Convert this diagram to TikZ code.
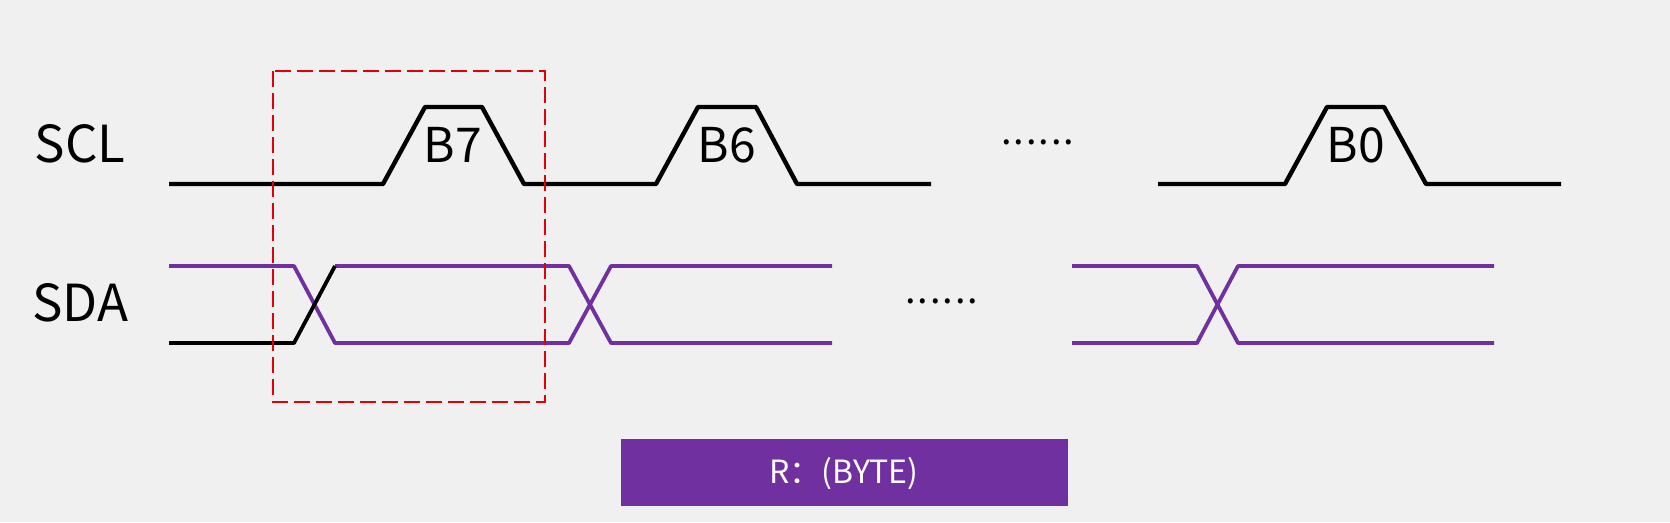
\documentclass[tikz,border=0pt]{standalone}
\usepackage{fontspec}
\setmainfont{Noto Sans CJK SC}
\definecolor{bg}{RGB}{240,240,240}
\definecolor{sdapurple}{RGB}{112,48,160}
\definecolor{boxborder}{RGB}{47,82,143}
\definecolor{selred}{RGB}{228,0,10}
\begin{document}
\begin{tikzpicture}[x=1pt,y=-1pt,
  scl/.style={line width=4.4pt,black,line join=round},
  sda/.style={line width=3.8pt,sdapurple,line join=round},
  sdablack/.style={line width=3.8pt,black,line join=round},
  sel/.style={line width=2.3pt,selred,dash pattern=on 16pt off 6pt},
  biglbl/.style={anchor=base,inner sep=0pt,font=\fontsize{51}{51}\selectfont},
  bitlbl/.style={anchor=base,inner sep=0pt,font=\fontsize{48}{48}\selectfont},
  dotlbl/.style={anchor=base,inner sep=0pt,font=\fontsize{38}{38}\selectfont},
  bytebox/.style={draw=boxborder,line width=1pt,fill=sdapurple,minimum width=446pt,minimum height=66pt,inner sep=0pt},
  bytetext/.style={anchor=base,inner sep=0pt,text=white,font=\fontsize{32}{32}\selectfont}]
\fill[bg] (0,0) rectangle (1670,522);
\useasboundingbox (0,0) rectangle (1670,522);
% labels
\node[biglbl] (scllbl) at (80,162) {SCL};
\node[biglbl] (sdalbl) at (80,321) {SDA};
% SCL waveform
\draw[scl] (169,184) -- (383,184) -- (425,107) -- (482,107) -- (524,184)
  -- (656,184) -- (698,107) -- (756,107) -- (797,184) -- (931,184);
\draw[scl] (1158,184) -- (1285,184) -- (1327,107) -- (1384,107) -- (1426,184) -- (1561,184);
\node[bitlbl] (b7) at (453,162) {B7};
\node[bitlbl] (b6) at (727,162) {B6};
\node[bitlbl] (b0) at (1356,162) {B0};
\node[dotlbl] (dots1) at (1038,144) {.\kern1.9pt.\kern1.9pt.\kern1.9pt.\kern1.9pt.\kern1.9pt.};
\node[dotlbl] (dots2) at (942,303) {.\kern1.9pt.\kern1.9pt.\kern1.9pt.\kern1.9pt.\kern1.9pt.};
% SDA waveform
\draw[sda] (169,266) -- (294,266) -- (335,343) -- (569,343) -- (611,266) -- (832,266);
\draw[sda] (335,266) -- (569,266) -- (611,343) -- (832,343);
\draw[sdablack] (169,343) -- (294,343) -- (335,266);
\draw[sda] (1072,266) -- (1197,266) -- (1238,343) -- (1494,343);
\draw[sda] (1072,343) -- (1197,343) -- (1238,266) -- (1494,266);
% selection box
\draw[sel] (273,71) rectangle (545,402);
% byte box
\node[bytebox] (byte) at (844,472) {};
\node[bytetext] (bytetxt) at (844,483) {R：(BYTE)};
\end{tikzpicture}
\end{document}
